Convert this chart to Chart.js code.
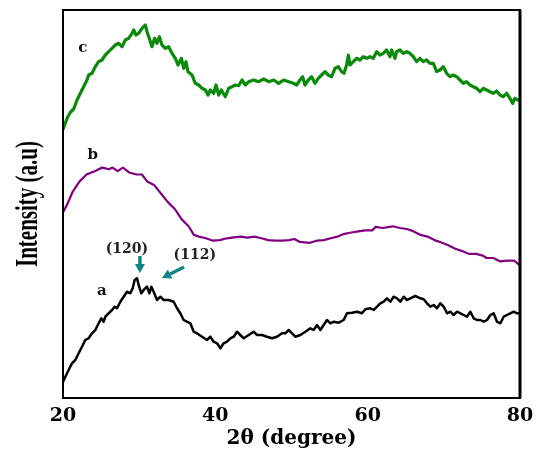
<!DOCTYPE html>
<html><head><meta charset="utf-8">
<script src="https://cdn.jsdelivr.net/npm/chart.js@4/dist/chart.umd.min.js"></script>
<style>html,body{margin:0;padding:0;background:#fff}#wrap{width:541px;height:450px}</style>
</head><body><div id="wrap"><canvas id="c"></canvas></div>
<script>
// 2θ (degree) and intensity (a.u.)
const thetaA = [20,20.31,20.74,21.18,21.62,22.06,22.49,22.93,23.37,23.81,24.25,24.68,25.03,25.34,25.56,25.99,26.43,26.78,27.09,27.53,27.97,28.4,28.84,29.15,29.41,29.72,29.93,30.29,30.59,31.03,31.34,31.6,31.9,32.34,32.78,33.22,33.87,34.53,34.97,35.4,35.84,36.28,36.72,37.16,37.59,38.25,38.91,39.34,39.78,40.22,40.66,41.09,41.53,41.97,42.41,42.85,43.28,43.72,44.38,45.03,45.47,46.13,46.78,47.44,48.1,48.75,49.19,49.63,50.07,50.5,51.16,51.82,52.47,52.91,53.35,53.79,54.22,54.66,55.1,55.54,56.19,56.85,57.29,57.94,58.6,59.26,59.69,60.35,60.79,61.23,61.66,62.1,62.54,62.98,63.41,63.85,64.29,64.73,65.16,65.6,66.26,66.92,67.35,67.79,68.23,68.67,69.1,69.54,69.98,70.42,70.85,71.29,71.73,72.17,72.6,73.04,73.48,73.92,74.36,74.79,75.23,75.67,76.11,76.54,76.98,77.42,77.86,78.29,78.73,79.17,79.6,80];
const intensityA = [16,21.3,28,34.7,38,44.7,51.3,58,59.7,64.7,68,74.7,79.7,76.3,81.3,84.7,88,91.3,89.7,96.3,101.3,106.3,104.7,109.7,118,119.7,113,104.7,108,111.3,104.7,111.3,106.3,98,101.3,98,98,96.3,89.7,84.7,78,76.3,74.7,66.3,64.7,61.3,58,61.3,56.3,54.7,49.7,54.7,56.3,59.7,61.3,66.3,63,59.7,63,66.3,63,63,61.3,59.7,61.3,64.7,64.7,68,64.7,61.3,63,66.3,69.7,68,73,68,73,78,74.7,76.3,75.3,78,84.7,85.3,86.3,84.7,88.7,89.7,88,91.3,94.7,96.3,99.7,96.3,101.3,99.7,96.3,101.3,98,99.7,102,99.7,98.7,94.7,91.3,93,89.7,94.7,91.3,84.7,86.3,83,86.3,84.7,83,81.3,86.3,79.7,78,78,76.3,78,83,84.7,76.3,74.7,81.3,83,84.7,86.3,84.7,84.7];

const thetaB = [20,20.59,21.27,22.18,23.09,24.23,25.14,26.05,26.5,27.18,27.86,28.77,29.68,30.36,31.05,31.95,32.86,33.77,34.68,35.59,36.5,37.18,37.86,38.77,39.68,40.59,41.5,42.41,43.32,44.23,45.14,46.05,46.95,47.86,48.77,49.68,50.36,51.05,52.41,53.32,54.23,55.14,56.05,56.95,57.86,58.77,59.68,60.59,61.05,61.95,63.32,64.23,65.14,66.05,66.95,67.86,68.77,69.68,70.59,71.5,72.41,73.32,74.23,75.14,75.59,76.5,77.41,78.32,79.23,79.91];
const intensityB = [185.5,194.2,206.2,216.6,223.5,226.9,230.4,228.7,230.4,226.9,230.4,225.2,223.5,223.5,216.6,213.1,204.5,195.9,189,178.6,171.7,163.1,161.4,159.7,157.3,157.9,159.7,160.7,161.4,160.4,161.4,159.7,157.9,157.3,157.3,157.9,159,156.2,155.2,157.3,157.9,159.7,161.4,164.2,165.5,166.6,167.6,167.6,171.1,170,171.7,170,169,166.6,163.1,161.4,157.9,155.5,152.8,149.3,146.9,144.1,144.1,142.4,140,140,136.6,137.3,137.3,133.1];

const thetaC = [20,20.59,21.0,21.4,21.84,22.28,22.71,23.15,23.37,23.81,24.24,24.68,25.12,25.56,25.99,26.43,26.87,27.31,27.75,28.18,28.62,29.06,29.28,29.58,29.93,30.37,30.81,31.03,31.33,31.68,32.03,32.34,32.65,33,33.44,33.87,34.31,34.75,35.1,35.54,35.85,36.15,36.41,36.94,37.37,37.81,38.25,38.69,39.04,39.34,39.78,40.09,40.44,40.79,41.31,41.75,42.19,42.63,43.06,43.5,43.94,44.38,45.03,45.69,46.35,47,47.66,48.31,48.97,49.63,50.24,50.68,51.11,51.46,51.77,52.21,52.64,53.08,53.52,53.96,54.4,54.83,55.27,55.71,56.15,56.58,56.89,57.24,57.46,57.68,58.12,58.55,58.99,59.43,59.87,60.3,60.74,61.18,61.62,62.05,62.49,62.93,63.15,63.59,63.8,64.24,64.68,65.12,65.55,65.99,66.43,66.87,67.31,67.74,68.18,68.62,69.06,69.49,69.93,70.37,70.81,71.24,71.68,72.12,72.56,72.99,73.43,73.87,74.31,74.75,75.18,75.62,76.06,76.5,76.93,77.37,77.81,78.25,78.68,79.03,79.34,80];
const intensityC = [268.6,280.7,286,289,298,304.7,311.3,318,323,324.7,331.3,336.3,338,343,346.3,349.7,353,354.7,351.3,358,359.7,364.7,368,363,364.7,369.7,373,366.3,359.7,351.3,359.7,354.7,361.3,353,349.7,351.3,344.7,339.7,333,339.7,329.7,336.3,326.3,323,314.7,313,309.7,308,303,308,304.7,313,303,308,301.3,309.7,311.3,313,312.3,318,313,316.3,318,316.3,319,316.3,318,314.7,318,316.3,314.7,313,318,321.3,313,318,321.3,314.7,319.7,323,326.3,323,321.3,329.7,331.3,326.3,324.7,333,343,333,336.3,339.7,338,341.3,339.7,341.3,339.7,346.3,343,344.7,348,341.3,348,339.7,346.3,348,344.7,346.3,344.7,341.3,336.3,339.7,336.3,338,334.7,334.7,326.3,328,331.3,324.7,321.3,323,321.3,318,314.7,316.3,313,311.3,309.7,306.3,309.7,308,306.3,304.7,307,303,301.3,304.7,299.7,294.7,299.7,297];

const xTicks = [20, 40, 60, 80];
const curveLabels = ['a', 'b', 'c'];
const peakLabels = ['(120)', '(112)'];

// annotation anchors in data units (2θ, intensity)
const curveLabelAt = [[25.1, 107], [23.9, 243], [22.6, 350]];
const peakLabelAt = [[28.4, 149], [37.3, 143]];
const arrowFrom = [[30.1, 142], [35.9, 131]];
const arrowTo = [[30.1, 125], [33.0, 120]];

const toPts = (xs, ys) => xs.map((x, i) => ({x, y: ys[i]}));

const decor = {
  id: 'decor',
  afterDatasetsDraw(chart) {
    const {ctx, chartArea: a, scales: {x, y}} = chart;
    ctx.save();
    // frame
    ctx.strokeStyle = '#000';
    ctx.lineWidth = 2;
    ctx.strokeRect(a.left, a.top, a.right - a.left, a.bottom - a.top);
    ctx.lineWidth = 3;
    ctx.beginPath(); ctx.moveTo(a.right, a.top); ctx.lineTo(a.right, a.bottom); ctx.stroke();
    // curve labels
    ctx.fillStyle = '#111';
    ctx.textAlign = 'center'; ctx.textBaseline = 'middle';
    ctx.font = 'bold 15px "DejaVu Serif"';
    curveLabels.forEach((t, i) => ctx.fillText(t, x.getPixelForValue(curveLabelAt[i][0]), y.getPixelForValue(curveLabelAt[i][1])));
    ctx.font = 'bold 14px "DejaVu Serif"';
    ctx.fillStyle = '#222';
    peakLabels.forEach((t, i) => ctx.fillText(t, x.getPixelForValue(peakLabelAt[i][0]), y.getPixelForValue(peakLabelAt[i][1])));
    // arrows
    ctx.fillStyle = '#0f8585'; ctx.strokeStyle = '#0f8585';
    arrowFrom.forEach((f, i) => {
      const x0 = x.getPixelForValue(f[0]), y0 = y.getPixelForValue(f[1]);
      const x1 = x.getPixelForValue(arrowTo[i][0]), y1 = y.getPixelForValue(arrowTo[i][1]);
      const ang = Math.atan2(y1 - y0, x1 - x0);
      const hl = 9, hw = 5;
      const bx = x1 - hl * Math.cos(ang), by = y1 - hl * Math.sin(ang);
      ctx.lineWidth = 3.5; ctx.lineCap = 'butt';
      ctx.beginPath(); ctx.moveTo(x0, y0); ctx.lineTo(bx, by); ctx.stroke();
      ctx.beginPath();
      ctx.moveTo(x1, y1);
      ctx.lineTo(bx + hw * Math.sin(ang), by - hw * Math.cos(ang));
      ctx.lineTo(bx - hw * Math.sin(ang), by + hw * Math.cos(ang));
      ctx.closePath(); ctx.fill();
    });
    // y axis title (condensed serif)
    const title = 'Intensity (a.u)';
    ctx.fillStyle = '#000';
    ctx.font = 'bold 31px "Liberation Serif"';
    const w = ctx.measureText(title).width;
    const yc = (a.top + a.bottom) / 2;
    ctx.translate(29, yc);
    ctx.rotate(-Math.PI / 2);
    ctx.scale(126 / w, 1);
    ctx.fillText(title, 0, 0);
    ctx.restore();
  }
};

new Chart(document.getElementById('c'), {
  type: 'line',
  data: {
    datasets: [
      {label: 'a', data: toPts(thetaA, intensityA), borderColor: '#000000', borderWidth: 2.5},
      {label: 'b', data: toPts(thetaB, intensityB), borderColor: '#800080', borderWidth: 2.2},
      {label: 'c', data: toPts(thetaC, intensityC), borderColor: '#0a8a0a', borderWidth: 3.2}
    ]
  },
  options: {
    responsive: true, maintainAspectRatio: false, animation: false,
    layout: {padding: {top: 10, right: 21, left: 0, bottom: 0}},
    elements: {point: {radius: 0}, line: {tension: 0, borderJoinStyle: 'round'}},
    plugins: {legend: {display: false}, tooltip: {enabled: false}},
    scales: {
      x: {
        type: 'linear', min: 20, max: 80,
        afterBuildTicks: s => { s.ticks = xTicks.map(v => ({value: v})); },
        afterFit: s => { s.height = 52; },
        grid: {display: false, drawTicks: false},
        border: {display: false},
        ticks: {padding: 7, color: '#000', maxRotation: 0, font: {family: 'DejaVu Serif', weight: 'bold', size: 19}},
        title: {display: true, text: '2θ (degree)', color: '#000', padding: 0, font: {family: 'DejaVu Serif', weight: 'bold', size: 20, lineHeight: 1.1}}
      },
      y: {
        min: 0, max: 388,
        afterFit: s => { s.width = 63; },
        grid: {display: false, drawTicks: false},
        border: {display: false},
        ticks: {display: false}
      }
    }
  },
  plugins: [decor]
});
</script></body></html>
